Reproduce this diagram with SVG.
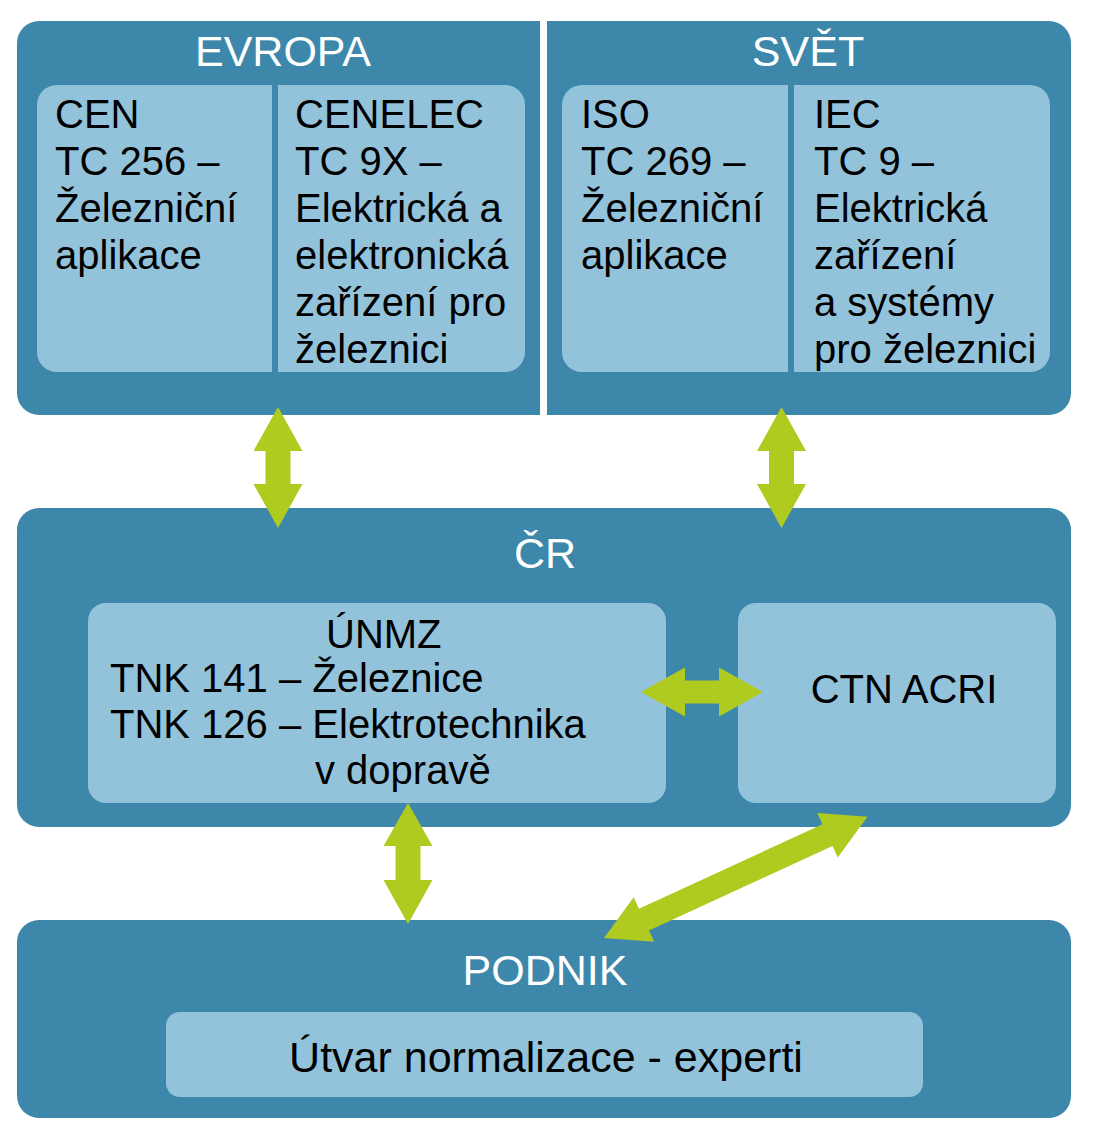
<svg xmlns="http://www.w3.org/2000/svg" width="1096" height="1145" viewBox="0 0 1096 1145">
<style>
.dark{fill:#3D88AA}
.light{fill:#93C3DB}
.arrow{fill:#B0CB1F}
.title{font-family:"Liberation Sans",Arial,sans-serif;font-size:43px;fill:#FFFFFF;text-anchor:middle}
.t{font-family:"Liberation Sans",Arial,sans-serif;font-size:40px;fill:#000000}
</style>
<rect width="1096" height="1145" fill="#FFFFFF"/>
<g id="evropa">
<path class="dark" d="M17,43 a22,22 0 0 1 22,-22 H540 V415 H39 a22,22 0 0 1 -22,-22 Z"/>
<text class="title" x="283" y="66">EVROPA</text>
<g id="cen">
<rect class="light" x="37" y="85" width="488" height="287" rx="20"/>
<rect class="dark" x="272" y="85" width="6" height="287"/>
<text class="t" x="55" y="128">CEN</text>
<text class="t" x="55" y="175">TC 256 –</text>
<text class="t" x="55" y="222">Železniční</text>
<text class="t" x="55" y="269">aplikace</text>
</g>
<g id="cenelec">
<text class="t" x="295" y="128">CENELEC</text>
<text class="t" x="295" y="175">TC 9X –</text>
<text class="t" x="295" y="222">Elektrická a</text>
<text class="t" x="295" y="269">elektronická</text>
<text class="t" x="295" y="316">zařízení pro</text>
<text class="t" x="295" y="363">železnici</text>
</g>
</g>
<g id="svet">
<path class="dark" d="M547,21 H1049 a22,22 0 0 1 22,22 V393 a22,22 0 0 1 -22,22 H547 Z"/>
<text class="title" x="808" y="66">SVĚT</text>
<g id="iso">
<rect class="light" x="562" y="85" width="488" height="287" rx="20"/>
<rect class="dark" x="788" y="85" width="6" height="287"/>
<text class="t" x="581" y="128">ISO</text>
<text class="t" x="581" y="175">TC 269 –</text>
<text class="t" x="581" y="222">Železniční</text>
<text class="t" x="581" y="269">aplikace</text>
</g>
<g id="iec">
<text class="t" x="814" y="128">IEC</text>
<text class="t" x="814" y="175">TC 9 –</text>
<text class="t" x="814" y="222">Elektrická</text>
<text class="t" x="814" y="269">zařízení</text>
<text class="t" x="814" y="316">a systémy</text>
<text class="t" x="814" y="363">pro železnici</text>
</g>
</g>
<g id="cr">
<rect class="dark" x="17" y="508" width="1054" height="319" rx="22"/>
<text class="title" x="545" y="568">ČR</text>
</g>
<g id="unmz">
<rect class="light" x="88" y="603" width="578" height="200" rx="18"/>
<text class="t" x="326" y="648">ÚNMZ</text>
<text class="t" x="110" y="692">TNK 141 – Železnice</text>
<text class="t" x="110" y="738">TNK 126 – Elektrotechnika</text>
<text class="t" x="315" y="784">v dopravě</text>
</g>
<g id="ctn">
<rect class="light" x="738" y="603" width="318" height="200" rx="18"/>
<text class="t" x="904" y="703" text-anchor="middle">CTN ACRI</text>
</g>
<g id="podnik">
<rect class="dark" x="17" y="920" width="1054" height="198" rx="22"/>
<text class="title" x="545" y="985">PODNIK</text>
<g id="utvar">
<rect class="light" x="166" y="1012" width="757" height="85" rx="14"/>
<text class="t" x="546" y="1072" text-anchor="middle" style="font-size:43px">Útvar normalizace - experti</text>
</g>
</g>
<g id="connectors">
<polygon class="arrow" points="278,407 302.5,451 290.5,451 290.5,484 302.5,484 278,528 253.5,484 265.5,484 265.5,451 253.5,451"/>
<polygon class="arrow" points="781.5,407 806,451 794,451 794,484 806,484 781.5,528 757,484 769,484 769,451 757,451"/>
<polygon class="arrow" points="641,692 685,667.5 685,680.5 719,680.5 719,667.5 763,692 719,716.5 719,703.5 685,703.5 685,716.5"/>
<polygon class="arrow" points="408,803 432.5,846 420.5,846 420.5,880 432.5,880 408,924 383.5,880 395.5,880 395.5,846 383.5,846"/>
<polygon class="arrow" transform="translate(604,938) rotate(-24.7)" points="0,0 44,-24.5 44,-12 246,-12 246,-24.5 290,0 246,24.5 246,12 44,12 44,24.5"/>
</g>
</svg>
